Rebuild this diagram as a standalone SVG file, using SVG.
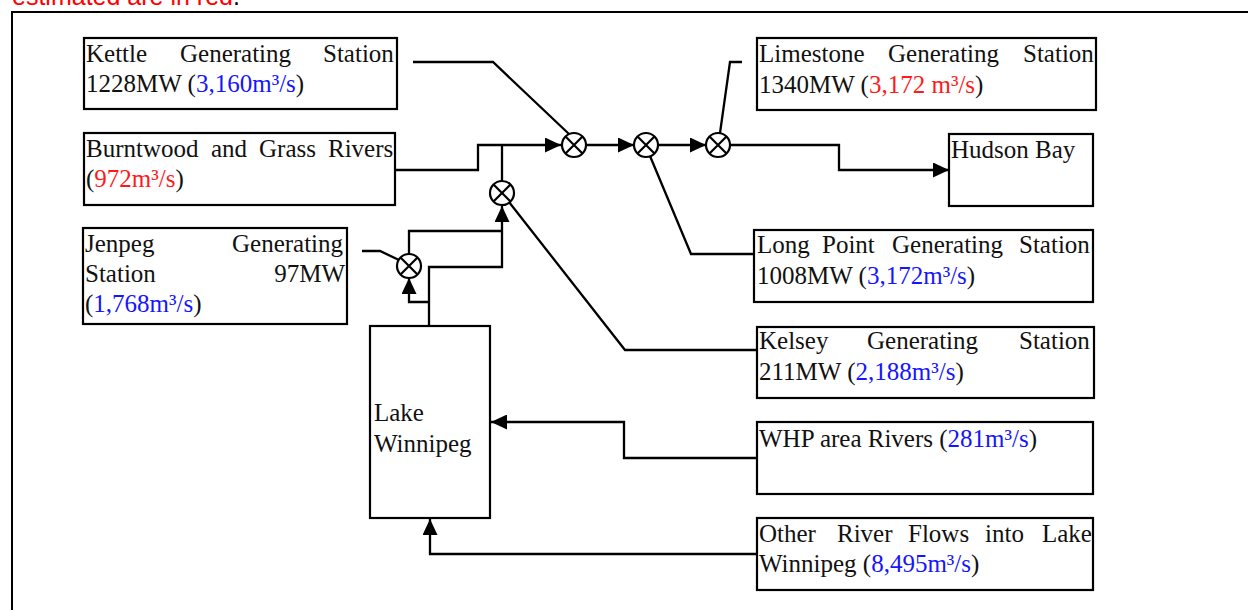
<svg xmlns="http://www.w3.org/2000/svg" width="1248" height="610" viewBox="0 0 1248 610">
<defs>
<style>
.box{fill:#fff;stroke:#000;stroke-width:2.2}
.t{font-family:"Liberation Serif","Times New Roman",serif;font-size:25px;fill:#111}
.b{fill:#1515ff}
.r{fill:#ff1a1a}
.ln{fill:none;stroke:#000;stroke-width:2.3}
.arr{fill:none;stroke:#000;stroke-width:2.3;marker-end:url(#ah)}
.mul{fill:#fff;stroke:#000;stroke-width:2.2}
.x{stroke:#000;stroke-width:2.2}
</style>
<marker id="ah" markerUnits="userSpaceOnUse" markerWidth="16" markerHeight="15" refX="16" refY="7.5" orient="auto" viewBox="0 0 16 15">
<path d="M0,0 L16,7.5 L0,15 z" fill="#000"/>
</marker>
</defs>
<rect width="1248" height="610" fill="#fff"/>
<text x="12" y="5" font-family="'Liberation Sans','Open Sans',sans-serif" font-size="25" fill="#ff0000">estimated are in red<tspan fill="#000">.</tspan></text>
<rect x="12" y="12" width="1250" height="620" fill="none" stroke="#000" stroke-width="2"/>

<g id="connectors">
<polyline class="ln" points="413,62 493,62 569,134"/>
<polyline class="arr" points="395,170 478,170 478,145 561,145"/>
<line class="ln" x1="502" y1="181" x2="502" y2="145"/>
<line class="arr" x1="586" y1="145" x2="634" y2="145"/>
<line class="arr" x1="658" y1="145" x2="706" y2="145"/>
<polyline class="arr" points="730,145 839,145 839,170 949,170"/>
<polyline class="ln" points="742,62 730,62 720,133"/>
<polyline class="ln" points="650,156 691,254 754,254"/>
<polyline class="ln" points="509,202 625,350 757,350"/>
<polyline class="ln" points="362,251 380,251 399,260"/>
<polyline class="ln" points="409,254 409,231 502,231"/>
<polyline class="arr" points="429,326 429,267 502,267 502,206"/>
<polyline class="arr" points="429,302 409,302 409,278"/>
<polyline class="arr" points="757,458 624,458 624,422 491,422"/>
<polyline class="arr" points="757,554 430,554 430,519"/>
</g>

<g id="mul-kettle"><circle class="mul" cx="574" cy="145" r="12"/><path class="x" d="M565.5,136.5 L582.5,153.5 M582.5,136.5 L565.5,153.5"/></g>
<g id="mul-longpoint"><circle class="mul" cx="646" cy="145" r="12"/><path class="x" d="M637.5,136.5 L654.5,153.5 M654.5,136.5 L637.5,153.5"/></g>
<g id="mul-limestone"><circle class="mul" cx="718" cy="145" r="12"/><path class="x" d="M709.5,136.5 L726.5,153.5 M726.5,136.5 L709.5,153.5"/></g>
<g id="mul-kelsey"><circle class="mul" cx="502" cy="193" r="12"/><path class="x" d="M493.5,184.5 L510.5,201.5 M510.5,184.5 L493.5,201.5"/></g>
<g id="mul-jenpeg"><circle class="mul" cx="409" cy="266" r="12"/><path class="x" d="M400.5,257.5 L417.5,274.5 M417.5,257.5 L400.5,274.5"/></g>

<g id="kettle">
<rect class="box" x="84" y="38" width="313" height="71"/>
<text class="t" y="62"><tspan x="86">Kettle</tspan><tspan x="180">Generating</tspan><tspan x="323">Station</tspan></text>
<text class="t" x="86" y="92">1228MW (<tspan class="b">3,160m³/s</tspan>)</text>
</g>

<g id="burntwood">
<rect class="box" x="84" y="133" width="311" height="72"/>
<text class="t" y="157"><tspan x="86">Burntwood</tspan><tspan x="211">and</tspan><tspan x="259">Grass</tspan><tspan x="328">Rivers</tspan></text>
<text class="t" x="86" y="187">(<tspan class="r">972m³/s</tspan>)</text>
</g>

<g id="jenpeg">
<rect class="box" x="83" y="228" width="264" height="96"/>
<text class="t" y="252"><tspan x="85">Jenpeg</tspan><tspan x="232">Generating</tspan></text>
<text class="t" y="282"><tspan x="85">Station</tspan><tspan x="345" text-anchor="end">97MW</tspan></text>
<text class="t" x="85" y="312">(<tspan class="b">1,768m³/s</tspan>)</text>
</g>

<g id="lake-winnipeg">
<rect class="box" x="370" y="326" width="120" height="192"/>
<text class="t" x="374" y="421">Lake</text>
<text class="t" x="374" y="452">Winnipeg</text>
</g>

<g id="limestone">
<rect class="box" x="757" y="38" width="339" height="72"/>
<text class="t" y="62"><tspan x="759">Limestone</tspan><tspan x="888">Generating</tspan><tspan x="1023">Station</tspan></text>
<text class="t" x="759" y="93">1340MW (<tspan class="r">3,172 m³/s</tspan>)</text>
</g>

<g id="hudson-bay">
<rect class="box" x="949" y="134" width="144" height="72"/>
<text class="t" x="951" y="158">Hudson Bay</text>
</g>

<g id="long-point">
<rect class="box" x="754" y="230" width="339" height="72"/>
<text class="t" y="253"><tspan x="757">Long</tspan><tspan x="822">Point</tspan><tspan x="892">Generating</tspan><tspan x="1019">Station</tspan></text>
<text class="t" x="757" y="284">1008MW (<tspan class="b">3,172m³/s</tspan>)</text>
</g>

<g id="kelsey">
<rect class="box" x="757" y="327" width="337" height="71"/>
<text class="t" y="349"><tspan x="759">Kelsey</tspan><tspan x="867">Generating</tspan><tspan x="1019">Station</tspan></text>
<text class="t" x="759" y="380">211MW (<tspan class="b">2,188m³/s</tspan>)</text>
</g>

<g id="whp-rivers">
<rect class="box" x="757" y="422" width="336" height="72"/>
<text class="t" x="759" y="447">WHP area Rivers (<tspan class="b">281m³/s</tspan>)</text>
</g>

<g id="other-rivers">
<rect class="box" x="757" y="518" width="336" height="72"/>
<text class="t" y="542"><tspan x="759">Other</tspan><tspan x="837">River</tspan><tspan x="908">Flows</tspan><tspan x="985">into</tspan><tspan x="1042">Lake</tspan></text>
<text class="t" x="759" y="572">Winnipeg (<tspan class="b">8,495m³/s</tspan>)</text>
</g>
</svg>
